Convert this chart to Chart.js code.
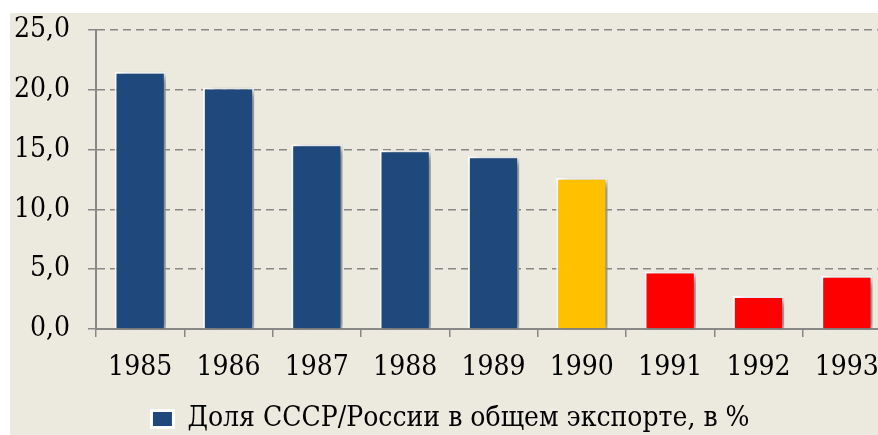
<!DOCTYPE html>
<html lang="ru">
<head>
    <meta charset="UTF-8">
    <title>Доля СССР/России в общем экспорте</title>
    <style>
        html, body { margin: 0; padding: 0; background: #ffffff; }
        #wrap { position: absolute; left: 10px; top: 13px; width: 868px; height: 422px; overflow: hidden; background: #ECE9DF; }
        #holder { width: 882px; height: 422px; }
    </style>
    <script src="https://cdn.jsdelivr.net/npm/chart.js"></script>
</head>
<body>
    <div id="wrap">
        <div id="holder"><canvas id="exportChart"></canvas></div>
    </div>

    <script>
        // data
        const years = ['1985', '1986', '1987', '1988', '1989', '1990', '1991', '1992', '1993'];
        const shares = [21.5, 20.2, 15.45, 14.95, 14.45, 12.65, 4.8, 2.75, 4.45];
        const barColors = ['#1F497D', '#1F497D', '#1F497D', '#1F497D', '#1F497D', '#FFC000', '#FF0000', '#FF0000', '#FF0000'];
        const seriesName = 'Доля СССР/России в общем экспорте, в %';

        const font = { family: '"DejaVu Serif Condensed", "DejaVu Serif", serif', size: 28 };

        // soft shadow to the lower right of the bars
        const barShadow = {
            id: 'barShadow',
            beforeDatasetsDraw(chart) {
                const ctx = chart.ctx;
                ctx.save();
                ctx.shadowColor = 'rgba(0, 0, 0, 0.5)';
                ctx.shadowBlur = 8;
                ctx.shadowOffsetX = 5;
                ctx.shadowOffsetY = 3;
            },
            afterDatasetsDraw(chart) {
                chart.ctx.restore();
            }
        };

        new Chart(document.getElementById('exportChart'), {
            type: 'bar',
            data: {
                labels: years,
                datasets: [{
                    label: seriesName,
                    data: shares,
                    backgroundColor: barColors,
                    borderColor: '#ffffff',
                    borderWidth: 2,
                    barPercentage: 0.58,
                    categoryPercentage: 1.0
                }]
            },
            options: {
                responsive: true,
                maintainAspectRatio: false,
                animation: false,
                layout: { padding: { left: 0, top: 17, right: 1, bottom: -8 } },
                plugins: {
                    tooltip: { enabled: false },
                    legend: {
                        position: 'bottom',
                        labels: {
                            color: '#000000',
                            font: font,
                            boxWidth: 22,
                            boxHeight: 17,
                            padding: 0,
                            generateLabels: () => [{
                                text: seriesName,
                                fillStyle: '#1F497D',
                                strokeStyle: '#ffffff',
                                lineWidth: 3,
                                fontColor: '#000000'
                            }]
                        }
                    }
                },
                scales: {
                    x: {
                        offset: true,
                        grid: { display: true, drawOnChartArea: false, color: '#888888', lineWidth: 1.5, tickLength: 8, offset: true },
                        border: { display: true, color: '#888888', width: 2 },
                        ticks: { color: '#000000', font: font, padding: 14, maxRotation: 0, autoSkip: false },
                        afterFit: s => { s.height = 76; s.paddingLeft = 0; s.paddingRight = 0; }
                    },
                    y: {
                        min: 0,
                        max: 25,
                        grid: { color: '#888888', lineWidth: 1.5, tickLength: 8, tickBorderDash: [] },
                        border: { display: true, color: '#888888', width: 2, dash: [8, 5] },
                        ticks: {
                            stepSize: 5,
                            color: '#000000',
                            font: font,
                            padding: 18,
                            callback: v => v.toFixed(1).replace('.', ',')
                        },
                        afterFit: s => { s.width = 86; s.paddingTop = 0; s.paddingBottom = 0; }
                    }
                }
            },
            plugins: [barShadow]
        });
    </script>
</body>
</html>
